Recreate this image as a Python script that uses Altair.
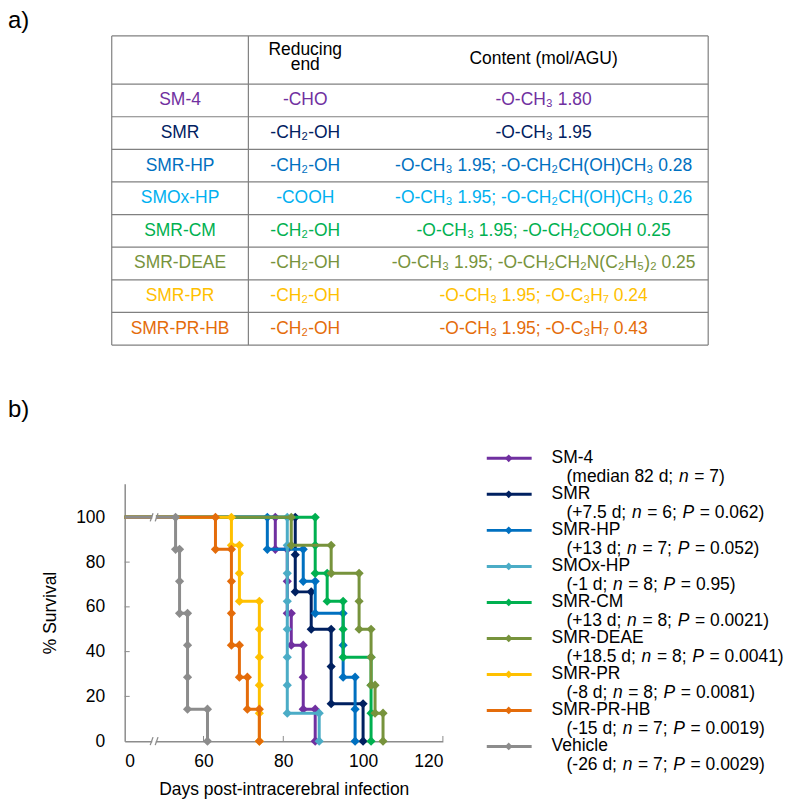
import altair as alt
import pandas as pd

FONT = "Liberation Sans"
FS = 17.5
AXIS_GRAY = "#8C8C8C"
AXIS_START = 40.25   # position of the broken-axis origin ("0") on the day scale

# ---------------- data ----------------
groups = ["SM-4", "SMR", "SMR-HP", "SMOx-HP", "SMR-CM", "SMR-DEAE", "SMR-PR", "SMR-PR-HB", "Vehicle"]
line_colors = ["#7030A0", "#002060", "#0070C0", "#4BACC6", "#00B050", "#77933C", "#FFC000", "#E46C0A", "#8C8C8C"]
table_colors = ["#7030A0", "#002060", "#0070C0", "#00B0F0", "#00B050", "#77933C", "#FFC000", "#E46C0A"]

table_header = ["", "Reducing\nend", "Content (mol/AGU)"]
reducing_end = ["-CHO", "-CH₂-OH", "-CH₂-OH", "-COOH", "-CH₂-OH", "-CH₂-OH", "-CH₂-OH", "-CH₂-OH"]
content = [
    "-O-CH₃ 1.80",
    "-O-CH₃ 1.95",
    "-O-CH₃ 1.95; -O-CH₂CH(OH)CH₃ 0.28",
    "-O-CH₃ 1.95; -O-CH₂CH(OH)CH₃ 0.26",
    "-O-CH₃ 1.95; -O-CH₂COOH 0.25",
    "-O-CH₃ 1.95; -O-CH₂CH₂N(C₂H₅)₂ 0.25",
    "-O-CH₃ 1.95; -O-C₃H₇ 0.24",
    "-O-CH₃ 1.95; -O-C₃H₇ 0.43",
]

legend_effect = ["median 82 d", "+7.5 d", "+13 d", "-1 d", "+13 d", "+18.5 d", "-8 d", "-15 d", "-26 d"]
legend_n = [7, 6, 7, 8, 8, 8, 8, 7, 7]
legend_p = ["", "0.062", "0.052", "0.95", "0.0021", "0.0041", "0.0081", "0.0019", "0.0029"]

# Kaplan-Meier step vertices (day, % survival)
sm4_day = [0, 78, 78, 81, 81, 81, 82, 82, 85, 85, 85, 88, 88]
sm4_surv = [100, 100, 85.7, 85.7, 71.4, 57.1, 57.1, 42.9, 42.9, 28.6, 14.3, 14.3, 0]
smr_day = [0, 83, 83, 83, 87, 87, 92, 92, 92, 100, 100]
smr_surv = [100, 100, 83.3, 66.7, 66.7, 50, 50, 33.3, 16.7, 16.7, 0]
hp_day = [0, 76, 76, 85, 85, 88, 88, 95, 95, 95, 98, 98, 98]
hp_surv = [100, 100, 85.7, 85.7, 71.4, 71.4, 57.1, 57.1, 42.9, 28.6, 28.6, 14.3, 0]
oxhp_day = [0, 81, 81, 81, 81, 81, 81, 81, 81, 89, 89]
oxhp_surv = [100, 100, 87.5, 75, 62.5, 50, 37.5, 25, 12.5, 12.5, 0]
cm_day = [0, 88, 88, 88, 91, 91, 95, 95, 95, 102, 102, 102, 102]
cm_surv = [100, 100, 87.5, 75, 75, 62.5, 62.5, 50, 37.5, 37.5, 25, 12.5, 0]
deae_day = [0, 82, 82, 92, 92, 99, 99, 99, 102, 102, 102, 103, 103, 105, 105]
deae_surv = [100, 100, 87.5, 87.5, 75, 75, 62.5, 50, 50, 37.5, 25, 25, 12.5, 12.5, 0]
pr_day = [0, 67, 67, 69, 69, 69, 74, 74, 74, 74, 74, 74]
pr_surv = [100, 100, 87.5, 87.5, 75, 62.5, 62.5, 50, 37.5, 25, 12.5, 0]
prhb_day = [0, 63, 63, 67, 67, 67, 67, 69, 69, 71, 71, 74, 74]
prhb_surv = [100, 100, 85.7, 85.7, 71.4, 57.1, 42.9, 42.9, 28.6, 28.6, 14.3, 14.3, 0]
veh_day = [0, 53, 53, 54, 54, 54, 56, 56, 56, 56, 61, 61]
veh_surv = [100, 100, 85.7, 85.7, 71.4, 57.1, 57.1, 42.9, 28.6, 14.3, 14.3, 0]

day_lists = [sm4_day, smr_day, hp_day, oxhp_day, cm_day, deae_day, pr_day, prhb_day, veh_day]
surv_lists = [sm4_surv, smr_surv, hp_surv, oxhp_surv, cm_surv, deae_surv, pr_surv, prhb_surv, veh_surv]

x_ticks = [60, 80, 100, 120]
y_ticks = [20, 40, 60, 80, 100]
break_day = 47.6

# ---------------- survival plot ----------------
XS = alt.Scale(domain=[AXIS_START, 120], nice=False, zero=False)
YS = alt.Scale(domain=[0, 115], nice=False, zero=True)
x_axis = alt.Axis(values=[AXIS_START] + x_ticks, labelExpr="datum.value < 50 ? '0' : datum.label",
                  ticks=False, grid=False, labelPadding=11, titlePadding=11,
                  domainColor=AXIS_GRAY, domainWidth=1.5, labelFont=FONT, titleFont=FONT,
                  labelFontSize=FS, titleFontSize=FS, titleFontWeight="normal",
                  labelColor="black", titleColor="black", labelOverlap=False)
y_axis = alt.Axis(values=[0] + y_ticks, ticks=False, grid=False, labelPadding=20, titlePadding=16,
                  domainColor=AXIS_GRAY, domainWidth=1.5, labelFont=FONT, titleFont=FONT,
                  labelFontSize=FS, titleFontSize=FS, titleFontWeight="normal",
                  labelColor="black", titleColor="black", labelOverlap=False)


def xenc(f):
    return alt.X(f, type="quantitative", scale=XS, axis=x_axis, title="Days post-intracerebral infection")


def yenc(f):
    return alt.Y(f, type="quantitative", scale=YS, axis=y_axis, title="% Survival")


surv_layers = []

# inward tick marks
xt = pd.DataFrame({"x": x_ticks, "y": [0] * len(x_ticks), "y2": [2.3] * len(x_ticks)})
yt = pd.DataFrame({"x": [AXIS_START] * len(y_ticks), "x2": [AXIS_START + 1.25] * len(y_ticks), "y": y_ticks})
surv_layers.append(alt.Chart(xt).mark_rule(color=AXIS_GRAY, strokeWidth=1).encode(
    x=xenc("x"), y=yenc("y"), y2="y2"))
surv_layers.append(alt.Chart(yt).mark_rule(color=AXIS_GRAY, strokeWidth=1).encode(
    x=xenc("x"), x2="x2", y=yenc("y")))

for name, col, d, s in zip(groups, line_colors, day_lists, surv_lists):
    df = pd.DataFrame({"day": d, "surv": s})
    df["x"] = [AXIS_START if v == 0 else v for v in d]
    df["i"] = list(range(len(df)))
    surv_layers.append(alt.Chart(df).mark_line(color=col, strokeWidth=3).encode(
        x=xenc("x"), y=yenc("surv"), order="i:Q"))
    surv_layers.append(alt.Chart(df[df["day"] > 0]).mark_point(
        shape="diamond", filled=True, size=85, color=col, opacity=1).encode(
        x=xenc("x"), y=yenc("surv")))

# axis break marks (on the 100 % line and on the x axis)
gap = pd.DataFrame({"x": [break_day - 0.45] * 2, "x2": [break_day + 0.45] * 2, "y": [100, 0]})
surv_layers.append(alt.Chart(gap).mark_rule(color="white", strokeWidth=6).encode(
    x=xenc("x"), x2="x2", y=yenc("y")))
sl_rows = []
for yy in [100, 0]:
    for c in [break_day - 0.6, break_day + 0.65]:
        sl_rows.append({"x": c - 0.35, "x2": c + 0.35, "y": yy - 1.8, "y2": yy + 1.8})
slashes = pd.DataFrame(sl_rows)
surv_layers.append(alt.Chart(slashes).mark_rule(color=AXIS_GRAY, strokeWidth=1.3).encode(
    x=xenc("x"), x2="x2", y=yenc("y"), y2="y2"))

surv = alt.layer(*surv_layers)

# ---------------- layout layer (table, legend, panel labels) ----------------
LX = alt.Scale(domain=[0, 792], range=[-125, 667])
LY = alt.Scale(domain=[0, 802], range=[-484, 318])


def lx(f):
    return alt.X(f, type="quantitative", scale=LX, axis=None)


def ly(f):
    return alt.Y(f, type="quantitative", scale=LY, axis=None)


# table geometry
T_LEFT, T_DIV, T_RIGHT = 112, 249, 710
T_TOP, T_HEAD, ROW_H = 35, 83.3, 32.7
COL_C = [(T_LEFT + T_DIV) / 2, 306, 545]
n_rows = len(reducing_end)
T_BOT = T_HEAD + ROW_H * n_rows

rule_rows = []
for yy in [T_TOP] + [T_HEAD + ROW_H * k for k in range(n_rows + 1)]:
    rule_rows.append({"x": T_LEFT, "x2": T_RIGHT, "y": yy, "y2": yy})
for xx in [T_LEFT, T_DIV, T_RIGHT]:
    rule_rows.append({"x": xx, "x2": xx, "y": T_TOP, "y2": T_BOT})
table_rules = alt.Chart(pd.DataFrame(rule_rows)).mark_rule(color="#808080", strokeWidth=1.2).encode(
    x=lx("x"), x2="x2", y=ly("y"), y2="y2")

txt_rows = []
head_lines = table_header[1].split("\n")
txt_rows.append({"t": head_lines[0], "x": COL_C[1], "y": 49.5, "c": "black"})
txt_rows.append({"t": head_lines[1], "x": COL_C[1], "y": 64.5, "c": "black"})
txt_rows.append({"t": table_header[2], "x": COL_C[2], "y": 58, "c": "black"})
for i in range(n_rows):
    yc = T_HEAD + ROW_H * (i + 0.5)
    txt_rows.append({"t": groups[i], "x": COL_C[0], "y": yc, "c": table_colors[i]})
    txt_rows.append({"t": reducing_end[i], "x": COL_C[1], "y": yc, "c": table_colors[i]})
    txt_rows.append({"t": content[i], "x": COL_C[2], "y": yc, "c": table_colors[i]})
table_text = alt.Chart(pd.DataFrame(txt_rows)).mark_text(
    font=FONT, fontSize=FS, align="center", baseline="middle").encode(
    x=lx("x"), y=ly("y"), text="t:N", color=alt.Color("c:N", scale=None))

panel = alt.Chart(pd.DataFrame({"t": ["a)", "b)"], "x": [8, 8], "y": [8, 398]})).mark_text(
    font=FONT, fontSize=24, align="left", baseline="top", color="black").encode(
    x=lx("x"), y=ly("y"), text="t:N")

# legend
LEG_Y0, LEG_DY, LEG_DY2 = 458.5, 36.1, 18.5
SYM_X0, SYM_X1, SYM_XC = 488, 533, 510
NAME_X, DET_X = 553, 568
LFS = 17.5
ITAL_PAD = 0.8
W = {' ': 278, '(': 333, ')': 333, '+': 584, '-': 333, '.': 278, ';': 278, '=': 584,
     'a': 556, 'd': 556, 'e': 556, 'i': 222, 'm': 833, 'n': 556, 'P': 667}
for ch in "0123456789":
    W[ch] = 556


def tw(s):
    return sum(W[ch] for ch in s) * LFS / 1000.0


sym_rows, name_rows, seg_rows = [], [], []
for i, g in enumerate(groups):
    yc = LEG_Y0 + LEG_DY * i
    sym_rows.append({"x": SYM_X0, "x2": SYM_X1, "xc": SYM_XC, "y": yc, "c": line_colors[i]})
    name_rows.append({"t": g, "x": NAME_X, "y": yc})
    toks = [("(%s; " % legend_effect[i], False), ("n", True)]
    if legend_p[i]:
        toks += [(" = %d; " % legend_n[i], False), ("P", True), (" = %s)" % legend_p[i], False)]
    else:
        toks += [(" = %d)" % legend_n[i], False)]
    cum = 0.0
    for s, it in toks:
        if it:
            cum += ITAL_PAD
        lead = len(s) - len(s.lstrip(" "))
        seg_rows.append({"t": s.strip(" "), "x": DET_X + cum + tw(" " * lead), "y": yc + LEG_DY2,
                         "it": "italic" if it else "normal"})
        cum += tw(s)
        if it:
            cum += ITAL_PAD

sym_df = pd.DataFrame(sym_rows)
leg_lines = alt.Chart(sym_df).mark_rule(strokeWidth=3).encode(
    x=lx("x"), x2="x2", y=ly("y"), color=alt.Color("c:N", scale=None))
leg_pts = alt.Chart(sym_df).mark_point(shape="diamond", filled=True, size=60, opacity=1).encode(
    x=lx("xc"), y=ly("y"), color=alt.Color("c:N", scale=None))
leg_names = alt.Chart(pd.DataFrame(name_rows)).mark_text(
    font=FONT, fontSize=LFS, align="left", baseline="middle", color="black").encode(
    x=lx("x"), y=ly("y"), text="t:N")
seg_df = pd.DataFrame(seg_rows)
leg_norm = alt.Chart(seg_df[seg_df["it"] == "normal"]).mark_text(
    font=FONT, fontSize=LFS, align="left", baseline="middle", color="black").encode(
    x=lx("x"), y=ly("y"), text="t:N")
leg_ital = alt.Chart(seg_df[seg_df["it"] == "italic"]).mark_text(
    font=FONT, fontSize=LFS, fontStyle="italic", align="left", baseline="middle", color="black").encode(
    x=lx("x"), y=ly("y"), text="t:N")

layout = alt.layer(table_rules, table_text, panel, leg_lines, leg_pts, leg_names, leg_norm, leg_ital)

chart = alt.layer(surv, layout).resolve_scale(x="independent", y="independent").properties(
    width=319, height=258, padding=0
).configure_view(stroke=None)

chart.save("out.html", embed_options={"renderer": "svg", "actions": False})
